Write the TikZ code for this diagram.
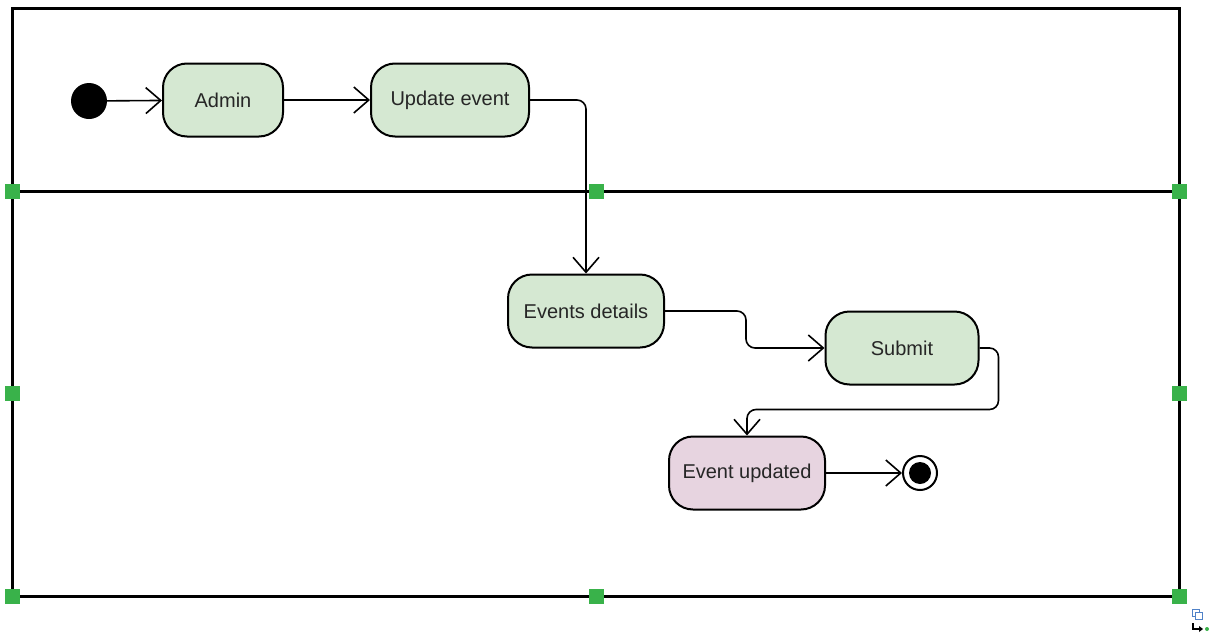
\documentclass[tikz,border=0pt]{standalone}
\usepackage{fontspec}
\setmainfont{Liberation Sans}
\usetikzlibrary{arrows.meta}
\definecolor{actgreen}{RGB}{213,232,210}
\definecolor{actpink}{RGB}{231,212,224}
\definecolor{handlegreen}{RGB}{57,178,74}
\definecolor{iconblue}{RGB}{80,130,200}
\tikzset{
  act/.style={draw, line width=2pt, rounded corners=24pt, minimum height=73pt,
    fill=actgreen, text=black!85, inner sep=0pt, font=\fontsize{20}{24}\selectfont},
  flow/.style={line width=1.6pt, rounded corners=9pt,
    -{Straight Barb[length=15pt,width=26pt,line width=1.6pt]}},
  lane/.style={line width=3pt},
  handle/.style={fill=handlegreen, minimum size=15pt, inner sep=0pt}
}
\begin{document}
\begin{tikzpicture}[x=1pt,y=-1pt]
\useasboundingbox (0,0) rectangle (1213,640);

% swimlane frame
\draw[lane] (12,8) rectangle (1179,596);
\draw[lane] (12,191) -- (1179,191);

% activity nodes
\node[circle, fill=black, minimum size=36pt, inner sep=0pt] (start) at (89,101) {};
\node[act, minimum width=120pt] (admin) at (223,100) {Admin};
\node[act, minimum width=158pt] (upd) at (450,100) {Update event};
\node[act, minimum width=156pt] (evd) at (586,311) {Events details};
\node[act, minimum width=153pt] (sub) at (902,348) {Submit};
\node[act, minimum width=156pt, fill=actpink] (evu) at (747,473) {Event updated};
\node[circle, draw, line width=2pt, minimum size=34pt, inner sep=0pt] (fin) at (920,473) {};
\node[circle, fill=black, minimum size=22pt, inner sep=0pt] (finin) at (fin) {};

% control flows
\draw[flow] (start) -- (admin);
\draw[flow] (admin) -- (upd);
\draw[flow] (upd.east) -| (evd.north);
\draw[flow] (evd.east) -- ++(81,0) |- (sub.west);
\draw[flow] (sub.east) -- ++(19,0) |- ([yshift=26pt]evu.north) -- (evu.north);
\draw[flow] (evu.east) -- (fin.west);

% selection handles
\foreach \hx/\hy [count=\i] in {12/191, 596/191, 1179/191, 12/393, 1179/393,
                                12/596, 596/596, 1179/596}
  \node[handle] (h\i) at (\hx,\hy) {};

% small copy/link icons
\draw[iconblue, line width=1pt] (1192,609) rectangle (1199,616);
\draw[iconblue, line width=1pt, fill=white] (1195,612) rectangle (1202,619);
\draw[black, line width=1.2pt] (1193,623) -- (1193,629) -- (1199,629);
\fill[black] (1199,626) -- (1203,629) -- (1199,632) -- cycle;
\fill[handlegreen] (1207,629) circle (2pt);
\end{tikzpicture}
\end{document}
